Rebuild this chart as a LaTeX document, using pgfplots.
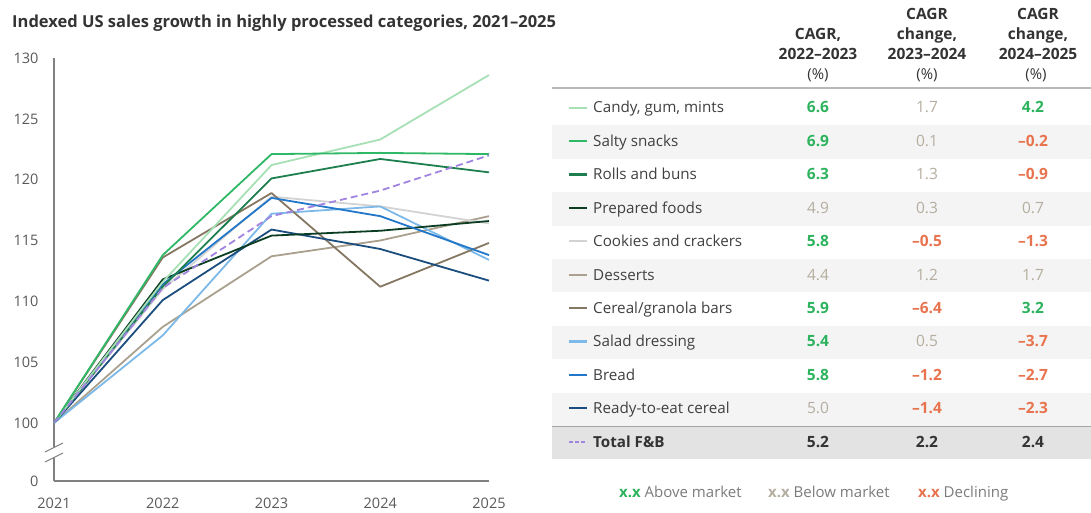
\documentclass[border=0pt]{standalone}
\usepackage{fontspec}
\setmainfont{Open Sans}
\usepackage{pgfplots}
\pgfplotsset{compat=1.18}
\newcommand\fs[1]{\fontsize{#1}{#1}\selectfont}
\definecolor{cCandy}{HTML}{A8E0B6}
\definecolor{cSalty}{HTML}{2FB866}
\definecolor{cRolls}{HTML}{1D7F4E}
\definecolor{cPrep}{HTML}{0B3D22}
\definecolor{cCook}{HTML}{D3D3D3}
\definecolor{cDess}{HTML}{A9A08E}
\definecolor{cBars}{HTML}{857762}
\definecolor{cSalad}{HTML}{7DB9E8}
\definecolor{cBread}{HTML}{2277C8}
\definecolor{cRTE}{HTML}{1B4D7E}
\definecolor{cTotal}{HTML}{A184E0}
\definecolor{axgray}{HTML}{808080}
\definecolor{lblgray}{HTML}{5A5A5A}
\definecolor{txtgray}{HTML}{404040}
\definecolor{valgreen}{HTML}{2DB35E}
\definecolor{valgray}{HTML}{B5AEA0}
\definecolor{valred}{HTML}{E8734F}
\definecolor{dark}{HTML}{333333}
\definecolor{rowshade}{HTML}{F4F4F4}
\definecolor{totshade}{HTML}{E3E3E3}
\tikzset{
 vG/.style={anchor=base, font=\fs{15.5}\bfseries, text=valgreen},
 vg/.style={anchor=base, font=\fs{15.5}, text=valgray},
 vR/.style={anchor=base, font=\fs{15.5}\bfseries, text=valred},
 vT/.style={anchor=base, font=\fs{15.5}\bfseries, text=dark},
 hd/.style={anchor=base, font=\fs{15.5}\bfseries, text=dark},
}
\newcommand\trow[9]{%
 \pgfmathsetmacro\yb{512-113-33.4*#1}%
 \pgfmathsetmacro\yc{\yb+5.3}%
 \draw[#2, line width=2.2pt] (569pt,\yc pt) -- (587pt,\yc pt);
 \node[anchor=base west, inner sep=0pt, text=txtgray, font=\fs{15.2}] at (593pt,\yb pt) {#3};
 \node[#5] at (818pt,\yb pt) {#4};
 \node[#7] at (927pt,\yb pt) {#6};
 \node[#9] at (1033pt,\yb pt) {#8};
}
\begin{document}
\begin{tikzpicture}
\path[use as bounding box] (0pt,0pt) rectangle (1091pt,512pt);
% title
\node[anchor=base west, inner sep=0pt, font=\fs{16.5}\bfseries, text=dark] at (12pt,484pt) {Indexed US sales growth in highly processed categories, 2021–2025};
\begin{axis}[at={(54pt,31pt)}, anchor=south west, scale only axis,
 width=435pt, height=423pt,
 xmin=2021, xmax=2025, ymin=95.23, ymax=130,
 axis x line=bottom, axis y line=left,
 axis line style={-, draw=axgray, line width=1.2pt},
 xtick={2021,2022,2023,2024,2025}, xticklabels={2021,2022,2023,2024,2025},
 ytick={95.23,100,105,110,115,120,125,130},
 yticklabels={0,100,105,110,115,120,125,130},
 major tick length=0pt,
 /pgf/number format/assume math mode=true,
 tick label style={font=\fs{14.5}, text=lblgray},
 yticklabel style={xshift=-12pt},
 xticklabel style={yshift=-13pt},
 clip=false,
 every axis plot/.append style={line width=1.8pt, line join=round}]
\addplot[cDess] coordinates {(2021,100) (2022,107.9) (2023,113.7) (2024,115.0) (2025,117.0)};
\addplot[cCook] coordinates {(2021,100) (2022,111.0) (2023,118.6) (2024,117.8) (2025,116.4)};
\addplot[cSalad] coordinates {(2021,100) (2022,107.2) (2023,117.2) (2024,117.8) (2025,113.4)};
\addplot[cBars] coordinates {(2021,100) (2022,113.6) (2023,118.9) (2024,111.2) (2025,114.8)};
\addplot[cRTE] coordinates {(2021,100) (2022,110.1) (2023,115.9) (2024,114.3) (2025,111.7)};
\addplot[cPrep] coordinates {(2021,100) (2022,111.8) (2023,115.4) (2024,115.8) (2025,116.6)};
\addplot[cBread] coordinates {(2021,100) (2022,111.4) (2023,118.5) (2024,117.0) (2025,113.8)};
\addplot[cRolls] coordinates {(2021,100) (2022,111.2) (2023,120.1) (2024,121.7) (2025,120.6)};
\addplot[cCandy] coordinates {(2021,100) (2022,111.6) (2023,121.2) (2024,123.3) (2025,128.6)};
\addplot[cSalty] coordinates {(2021,100) (2022,113.8) (2023,122.1) (2024,122.2) (2025,122.1)};
\addplot[cTotal, dashed, dash pattern=on 7pt off 4pt] coordinates {(2021,100) (2022,111.1) (2023,117.0) (2024,119.1) (2025,122.0)};
\end{axis}
% axis break
\fill[white] (49pt,54pt) rectangle (59pt,65pt);
\draw[axgray, line width=1.1pt] (45pt,60pt) -- (63pt,69pt);
\draw[axgray, line width=1.1pt] (45pt,50pt) -- (63pt,59pt);
% table shading
\foreach \i in {1,3,5,7,9} {
 \pgfmathsetmacro\yt{512-92-33.4*\i}
 \pgfmathsetmacro\yu{\yt-33.4}
 \fill[rowshade] (552pt,\yt pt) rectangle (1091pt,\yu pt);
}
\fill[totshade] (552pt,85.5pt) rectangle (1091pt,53pt);
\draw[color=black!35, line width=1.6pt] (552pt,85.5pt) -- (1091pt,85.5pt);
\draw[color=black!28, line width=2pt] (552pt,424pt) -- (1091pt,424pt);
% headers
\node[hd] at (818pt,472pt) {CAGR,};
\node[hd] at (818pt,452pt) {2022–2023};
\node[anchor=base, font=\fs{15}, text=dark] at (818pt,432pt) {(\%)};
\node[hd] at (927pt,492pt) {CAGR};
\node[hd] at (927pt,472pt) {change,};
\node[hd] at (927pt,452pt) {2023–2024};
\node[anchor=base, font=\fs{15}, text=dark] at (927pt,432pt) {(\%)};
\node[hd] at (1038pt,492pt) {CAGR};
\node[hd] at (1038pt,472pt) {change,};
\node[hd] at (1038pt,452pt) {2024–2025};
\node[anchor=base, font=\fs{15}, text=dark] at (1036pt,432pt) {(\%)};
% rows
\trow{0}{cCandy}{Candy, gum, mints}{6.6}{vG}{1.7}{vg}{4.2}{vG}
\trow{1}{cSalty}{Salty snacks}{6.9}{vG}{0.1}{vg}{–0.2}{vR}
\trow{2}{cRolls}{Rolls and buns}{6.3}{vG}{1.3}{vg}{–0.9}{vR}
\trow{3}{cPrep}{Prepared foods}{4.9}{vg}{0.3}{vg}{0.7}{vg}
\trow{4}{cCook}{Cookies and crackers}{5.8}{vG}{–0.5}{vR}{–1.3}{vR}
\trow{5}{cDess}{Desserts}{4.4}{vg}{1.2}{vg}{1.7}{vg}
\trow{6}{cBars}{Cereal/granola bars}{5.9}{vG}{–6.4}{vR}{3.2}{vG}
\trow{7}{cSalad}{Salad dressing}{5.4}{vG}{0.5}{vg}{–3.7}{vR}
\trow{8}{cBread}{Bread}{5.8}{vG}{–1.2}{vR}{–2.7}{vR}
\trow{9}{cRTE}{Ready-to-eat cereal}{5.0}{vg}{–1.4}{vR}{–2.3}{vR}
\trow{10}{cTotal, dash pattern=on 4pt off 2pt}{\textbf{\color{dark}Total F\&B}}{5.2}{vT}{2.2}{vT}{2.4}{vT}
% bottom legend
\node[anchor=base west, inner sep=0pt, font=\fs{15}] at (619pt,15pt) {\textcolor{valgreen}{\bfseries x.x} \textcolor{lblgray!80}{Above market}};
\node[anchor=base west, inner sep=0pt, font=\fs{15}] at (768pt,15pt) {\textcolor{valgray}{\bfseries x.x} \textcolor{lblgray!80}{Below market}};
\node[anchor=base west, inner sep=0pt, font=\fs{15}] at (918pt,15pt) {\textcolor{valred}{\bfseries x.x} \textcolor{lblgray!80}{Declining}};
\end{tikzpicture}
\end{document}
